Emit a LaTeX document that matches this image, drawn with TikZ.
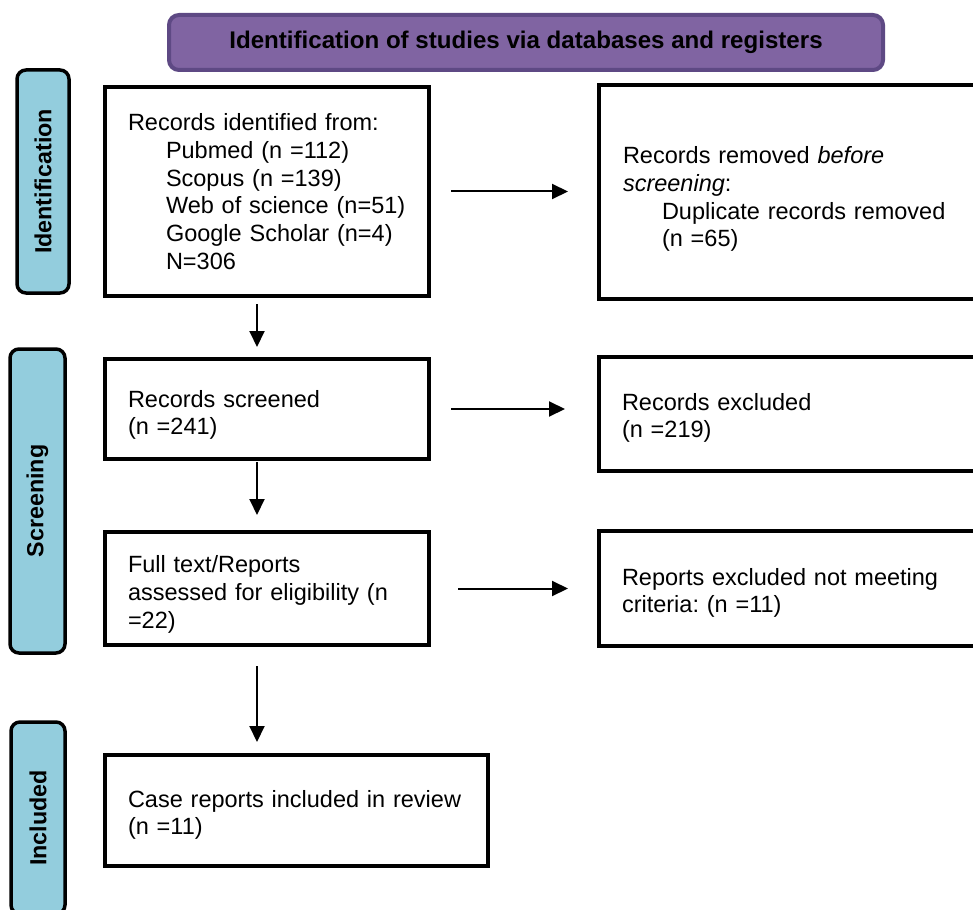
\documentclass[tikz,border=0pt]{standalone}
\usepackage{fontspec}
\setmainfont{Liberation Sans}
\frenchspacing
\usetikzlibrary{positioning}
\usetikzlibrary{arrows.meta}
\definecolor{hdrfill}{RGB}{128,100,162}
\definecolor{hdrdraw}{RGB}{94,73,132}
\definecolor{phasefill}{RGB}{147,205,221}
\newcommand{\topgap}[1]{\rule{0pt}{#1}}

\tikzset{
  recbox/.style={draw=black, line width=3.5pt, fill=white, anchor=north west, outer sep=0pt,
    align=left, inner xsep=23pt, inner ysep=0pt, font=\fontsize{23.5}{27.7}\selectfont},
  phasebox/.style={draw=black, line width=3.5pt, fill=phasefill, rounded corners=9pt, outer sep=0pt,
    rotate=90, inner sep=0pt, font=\bfseries\fontsize{23.3}{26}\selectfont},
  hdrbox/.style={draw=hdrdraw, line width=4pt, fill=hdrfill, rounded corners=10pt, outer sep=0pt,
    inner sep=0pt, font=\bfseries\fontsize{24.1}{27}\selectfont},
  flowarrow/.style={line width=2pt, -{Triangle[length=16pt,width=15pt]}},
}

\begin{document}
\begin{tikzpicture}[x=1pt,y=1pt,yscale=-1]
\useasboundingbox (0,0) rectangle (973,909);
\clip (0,0) rectangle (973,909);

%Shape: Header
\node[hdrbox, minimum width=714pt, minimum height=55pt] (hdr) at (526,42.5) {Identification of studies via databases and registers};

%Shape: Phase boxes
\node[phasebox, minimum width=223pt, minimum height=52pt] (idphase) at (43,181.5) {Identification};
\node[phasebox, minimum width=304pt, minimum height=55pt] (scrphase) at (37.5,501) {Screening};
\node[phasebox, minimum width=192pt, minimum height=54pt] (incphase) at (38,818) {Included};

% Text Node
\node[recbox, text width=278pt, minimum height=209pt] (ident) at (105,87) {Records identified from:\\
\hspace*{38pt}Pubmed (n =112)\\
\hspace*{38pt}Scopus (n =139)\\
\hspace*{38pt}Web of science (n=51)\\
\hspace*{38pt}Google Scholar (n=4)\\
\hspace*{38pt}N=306};
% Text Node
\node[recbox, inner xsep=24pt, text width=363pt, minimum height=214pt] (dupl) at (599,85) {\topgap{31.5pt}Records removed \textit{before}\\
\textit{screening}:\\
\hspace*{39pt}Duplicate records removed\\
\hspace*{39pt}(n =65)};
% Text Node
\node[recbox, text width=278pt, minimum height=100pt] (screen) at (105,359) {\topgap{29pt}Records screened\\(n =241)};
% Text Node
\node[recbox, text width=365pt, minimum height=114pt] (excl) at (599,357) {\topgap{25pt}Records excluded\\(n =219)};
% Text Node
\node[recbox, text width=278pt, minimum height=113pt] (full) at (105,532) {\topgap{29pt}Full text/Reports\\assessed for eligibility (n\\=22)};
% Text Node
\node[recbox, text width=365pt, minimum height=115pt] (notmeet) at (599,531) {\topgap{26pt}Reports excluded not meeting\\criteria: (n =11)};
% Text Node
\node[recbox, text width=337pt, minimum height=111pt] (incl) at (105,755) {\topgap{26pt}Case reports included in review\\(n =11)};

% Arrows
\draw[flowarrow, shorten <=22pt, shorten >=31pt] (ident.east) -- (ident.east -| dupl.west);
\draw[flowarrow, shorten <=22pt, shorten >=34pt] (screen.east) -- (screen.east -| excl.west);
\draw[flowarrow, shorten <=29pt, shorten >=31pt] (full.east) -- (full.east -| notmeet.west);
\draw[flowarrow, shorten <=8pt, shorten >=12pt] ([xshift=-10pt]ident.south) -- ([xshift=-10pt]screen.north);
\draw[flowarrow, shorten <=3pt, shorten >=17pt] ([xshift=-10pt]screen.south) -- ([xshift=-10pt]full.north);
\draw[flowarrow, shorten <=21pt, shorten >=13pt] ([xshift=-10pt]full.south) -- ([xshift=-10pt]full.south |- incl.north);

\end{tikzpicture}
\end{document}
